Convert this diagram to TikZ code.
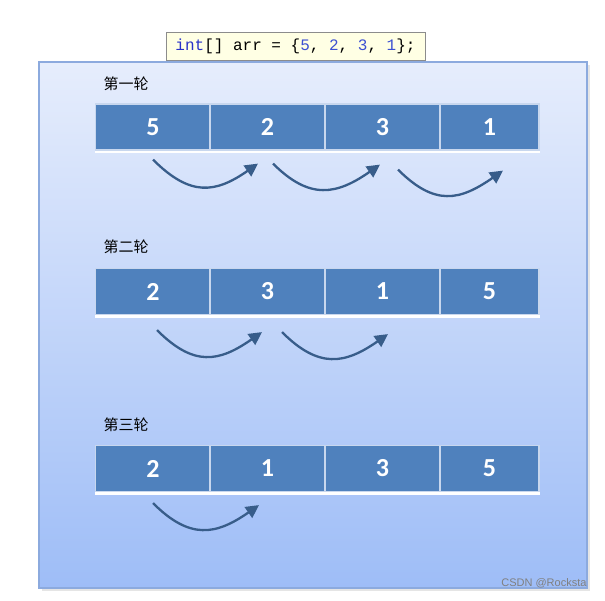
\documentclass[tikz,border=0pt]{standalone}
\usepackage{fontspec}
\newfontfamily\cjk{Noto Sans CJK SC}
\newfontfamily\numfont{Carlito}
\newfontfamily\codefont{Liberation Mono}
\newfontfamily\markfont{Liberation Sans}
\usetikzlibrary{arrows.meta}
\definecolor{cellblue}{RGB}{79,129,189}
\definecolor{cellline}{RGB}{200,215,238}
\definecolor{arrowblue}{RGB}{56,93,138}
\definecolor{paneltop}{RGB}{230,237,252}
\definecolor{panelbot}{RGB}{158,189,247}
\definecolor{panelline}{RGB}{140,170,222}
\definecolor{codebg}{RGB}{255,255,228}
\definecolor{codeblue}{RGB}{40,50,200}
\definecolor{numblue}{RGB}{60,80,210}
\begin{document}
\begin{tikzpicture}[x=1pt,y=-1pt,
  cell/.style={draw=cellline,line width=1.2pt,fill=cellblue,inner sep=0pt,minimum width=115pt,minimum height=46pt,
    font=\numfont\bfseries\fontsize{26}{26}\selectfont,text=white},
  lastcell/.style={cell,minimum width=99pt},
  roundlabel/.style={font=\cjk\fontsize{15}{15}\selectfont,anchor=west},
  pass/.style={draw=arrowblue,line width=2.3pt,-{Triangle[length=13pt,width=13pt]}}]
\useasboundingbox (0,0) rectangle (605,600);

% panel
\fill[black!10] (42,65) rectangle (590,591);
\shade[top color=paneltop,bottom color=panelbot] (39,62) rectangle (587,588);
\draw[panelline,line width=1.5pt] (39,62) rectangle (587,588);

\node[draw=black!45,fill=codebg,line width=0.8pt,minimum width=259pt,minimum height=28pt,inner sep=0pt,
  font=\codefont\fontsize{16}{16}\selectfont] (code) at (295.5,46)
  {{\color{codeblue}int}[] arr = \{{\color{numblue}5}, {\color{numblue}2}, {\color{numblue}3}, {\color{numblue}1}\};};

% first round
\node[roundlabel] (la) at (100,84) {第一轮};
\node[cell] (a1) at (153,127) {5};
\node[cell] (a2) at (267.5,127) {2};
\node[cell] (a3) at (382.5,127) {3};
\node[lastcell] (a4) at (489.5,127) {1};
\path[draw=white,line width=2.5pt] ([yshift=-1.5pt]a1.south west) -- ([yshift=-1.5pt]a4.south east);

% second round
\node[roundlabel] (lb) at (100,247) {第二轮};
\node[cell] (b1) at (153,291.5) {2};
\node[cell] (b2) at (267.5,291.5) {3};
\node[cell] (b3) at (382.5,291.5) {1};
\node[lastcell] (b4) at (489.5,291.5) {5};
\path[draw=white,line width=2.5pt] ([yshift=-1.5pt]b1.south west) -- ([yshift=-1.5pt]b4.south east);

% third round
\node[roundlabel] (lc) at (100,425) {第三轮};
\node[cell] (c1) at (153,468.5) {2};
\node[cell] (c2) at (267.5,468.5) {1};
\node[cell] (c3) at (382.5,468.5) {3};
\node[lastcell] (c4) at (489.5,468.5) {5};
\path[draw=white,line width=2.5pt] ([yshift=-1.5pt]c1.south west) -- ([yshift=-1.5pt]c4.south east);

% swaps
\path[pass] ([yshift=-9pt]a1.south) .. controls +(37,37) and +(-43,30) .. ([xshift=-9.5pt,yshift=-13pt]a2.south);
\path[pass] ([xshift=5.5pt,yshift=-13pt]a2.south) .. controls +(37,37) and +(-43,30) .. ([xshift=-2.5pt,yshift=-14pt]a3.south);
\path[pass] ([xshift=15.5pt,yshift=-19pt]a3.south) .. controls +(37,37) and +(-43,30) .. ([xshift=13.5pt,yshift=-20pt]a4.south);
\path[pass] ([xshift=4pt,yshift=-15pt]b1.south) .. controls +(37,37) and +(-43,30) .. ([xshift=-5.5pt,yshift=-17pt]b2.south);
\path[pass] ([xshift=14.5pt,yshift=-17pt]b2.south) .. controls +(37,37) and +(-43,30) .. ([xshift=5.5pt,yshift=-19pt]b3.south);
\path[pass] ([yshift=-11pt]c1.south) .. controls +(37,37) and +(-43,30) .. ([xshift=-8.5pt,yshift=-13pt]c2.south);

\node[font=\markfont\fontsize{11}{11}\selectfont,text=black!50,anchor=east] (mark) at (590,583) {CSDN @Rocksta};
\end{tikzpicture}
\end{document}
